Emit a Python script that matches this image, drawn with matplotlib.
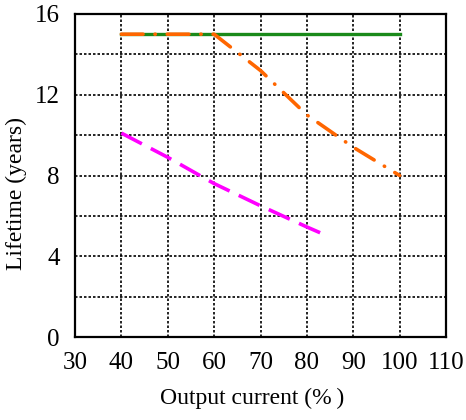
import matplotlib
matplotlib.use('Agg')  # headless mode
import matplotlib.pyplot as plt

# data
x_green = [40, 100]
y_green = [15, 15]

x_orange = [40, 60, 70, 80, 90, 100]
y_orange = [15, 15, 13.2, 11.0, 9.4, 8.0]

x_magenta = [40, 50, 60, 70, 80, 83]
y_magenta = [10.1, 8.9, 7.6, 6.5, 5.45, 5.15]

x_ticks = [30, 40, 50, 60, 70, 80, 90, 100, 110]
y_ticks = [0, 4, 8, 12, 16]

plt.rcParams['font.family'] = ['Liberation Serif', 'DejaVu Serif']

fig = plt.figure(figsize=(4.66, 4.2), dpi=100)
ax = fig.add_axes([75 / 466, 1 - 337 / 420, (446 - 75) / 466, (337 - 14) / 420])

# grid
for gx in range(40, 110, 10):
    ax.axvline(gx, color='black', ls=(0, (1.5, 1.2)), lw=1.2, zorder=1)
for gy in range(2, 16, 2):
    ax.axhline(gy, color='black', ls=(0, (1.5, 1.2)), lw=1.2, zorder=1)

ax.plot(x_green, y_green, color='#1a8a1a', lw=2.4, zorder=3)
ax.plot(x_orange, y_orange, color='#ff6600', lw=2.6,
        ls=(0, (6, 3.3, 0.1, 3.3)), dash_capstyle='round', zorder=4)
ax.plot(x_magenta, y_magenta, color='#ff00ff', lw=2.6,
        ls=(0, (6.4, 2.8)), zorder=4)

ax.set_xlim(30, 110)
ax.set_ylim(0, 16)
ax.set_xticks(x_ticks)
ax.set_yticks(y_ticks)
ax.tick_params(length=0, labelsize=18, pad=11)
for s in ax.spines.values():
    s.set_linewidth(1.6)

ax.set_xlabel('Output current (%\u2009)', fontsize=17)
ax.set_ylabel('Lifetime (years)', fontsize=17)
ax.xaxis.set_label_coords(0.477, -0.156)
ax.yaxis.set_label_coords(-0.13, 0.443)

fig.savefig('out.png', dpi=100)
